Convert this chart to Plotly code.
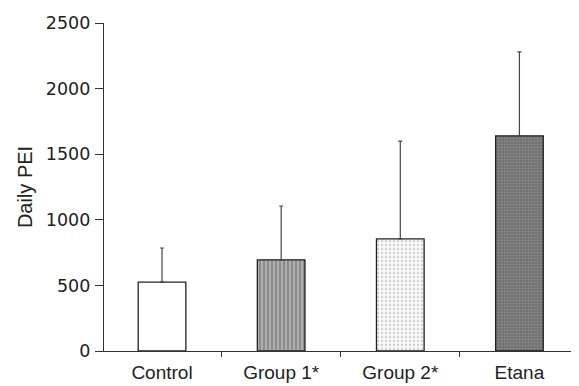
import plotly.graph_objects as go

categories = ["Control", "Group 1*", "Group 2*", "Etana"]
daily_pei = [525, 695, 855, 1640]
sd_upper = [260, 410, 745, 640]
y_ticks = [0, 500, 1000, 1500, 2000, 2500]

fills = ["#ffffff", "#a4a4a4", "#f2f2f2", "#808080"]
patterns = [
    dict(shape=""),
    dict(shape="|", fgcolor="#ffffff", bgcolor="#8c8c8c", size=4, solidity=0.3),
    dict(shape=".", fgcolor="#a8a8a8", bgcolor="#f7f7f7", size=4, solidity=0.25),
    dict(shape=".", fgcolor="#a6a6a6", bgcolor="#707070", size=3, solidity=0.35),
]

fig = go.Figure()
for i, cat in enumerate(categories):
    fig.add_trace(go.Bar(
        x=[cat], y=[daily_pei[i]],
        width=0.40,
        marker=dict(color=fills[i], line=dict(color="#222222", width=1.3),
                    pattern=patterns[i]),
        error_y=dict(type="data", array=[sd_upper[i]], arrayminus=[0],
                     symmetric=False, color="#444444", thickness=1.2, width=2),
        showlegend=False,
    ))

# the page body adds an 8px margin, so the figure is sized and placed to compensate
fig.update_layout(
    width=571, height=378,
    margin=dict(l=96, r=0, t=15, b=35),
    paper_bgcolor="white", plot_bgcolor="white",
    font=dict(family="Liberation Sans, Arial, sans-serif", size=19, color="#222222"),
    barmode="overlay",
)
fig.update_xaxes(
    type="category", categoryorder="array", categoryarray=categories,
    range=[-0.487, 3.5], automargin=False,
    showline=True, linecolor="#333333", linewidth=1.2,
    ticks="outside", ticklen=5, tickcolor="#333333", tickson="boundaries",
    showgrid=False, zeroline=False,
    tickfont=dict(size=19), ticklabelstandoff=4,
)
fig.update_yaxes(
    range=[0, 2500], tickvals=y_ticks, automargin=False,
    showline=True, linecolor="#333333", linewidth=1.2,
    ticks="outside", ticklen=8, tickcolor="#333333",
    showgrid=False, zeroline=False,
    title=dict(text="Daily PEI", font=dict(size=20), standoff=7),
    tickfont=dict(family="DejaVu Sans, Arial, sans-serif", size=17.5),
    ticklabelstandoff=1,
)

fig.write_html("out.html")
